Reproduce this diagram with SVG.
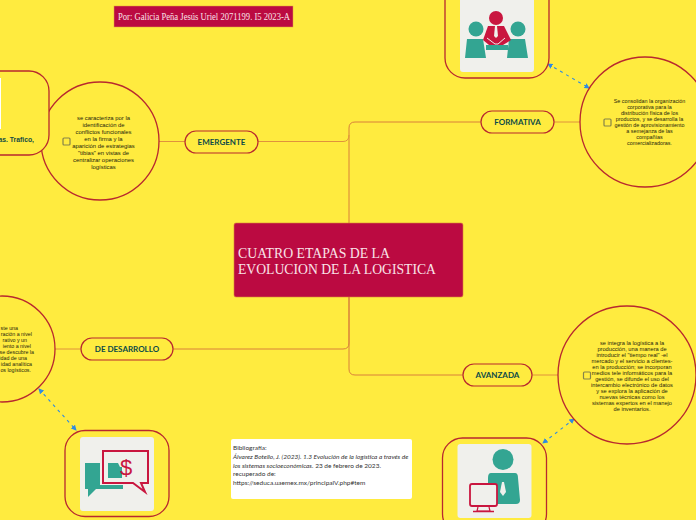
<svg xmlns="http://www.w3.org/2000/svg" width="696" height="520" viewBox="0 0 696 520">
<style>
.bg{fill:#ffeb3f}
.line{fill:none;stroke:#e0923c;stroke-width:1}
.trunk{fill:none;stroke:#d9803a;stroke-width:1}
.dash{fill:none;stroke:#2f8be0;stroke-width:1.1;stroke-dasharray:3 4;marker-start:url(#a);marker-end:url(#a)}
.bub{fill:#ffeb3f;stroke:#b8282f;stroke-width:1.3}
.pill{fill:#ffeb3f;stroke:#b8282f;stroke-width:1.2}
.pt{font:700 8px "Lato","Open Sans",sans-serif;fill:#0c4a48;text-anchor:middle}
.b{font:5.5px "Liberation Sans",Arial,sans-serif;fill:#26260c;text-anchor:middle}
.chk{fill:#ffeb3f;stroke:#85834a;stroke-width:1.2}
.img{fill:#f0f0ec}
.teal{fill:#33a592}
.red{fill:#c9163f}
.bib{font:6.5px "Lato","Open Sans",sans-serif;fill:#333}
.s{font-family:"Liberation Serif",serif;fill:#f9e4e9}
</style>
<defs>
<marker id="a" viewBox="0 0 6 6" refX="5" refY="3" markerWidth="5" markerHeight="5" orient="auto-start-reverse"><path d="M0 0L6 3L0 6z" fill="#2f8be0"/></marker>
</defs>
<rect class="bg" width="696" height="520"/>
<g id="connectors">
<path class="trunk" d="M349 223V128Q349 122 355 122H481"/>
<path class="trunk" d="M349 297V369Q349 375 355 375H463"/>
<path class="trunk" d="M173 349H343Q349 349 349 343V297"/>
<path class="line" d="M258 141.500H343Q349 141.500 349 135"/>
<path class="line" d="M159 141.500H185"/>
<path class="line" d="M554 122H580"/>
<path class="line" d="M55 349H81"/>
<path class="line" d="M532 375H558"/>
<path class="dash" d="M548 64L589 88"/>
<path class="dash" d="M39 389L76 430"/>
<path class="dash" d="M574 419L543 443"/>
</g>
<g id="title"><rect x="114" y="6" width="179" height="21" fill="#bb0a41" stroke="#e0a040" stroke-width=".5"/><text class="s" x="118" y="20" font-size="9.500" textLength="172" lengthAdjust="spacingAndGlyphs">Por: Galicia Peña Jesús Uriel 2071199. I5 2023-A</text></g>
<g id="central"><rect x="234" y="223" width="229" height="74" rx="2" fill="#bb0a41" stroke="#d9803a" stroke-width=".6"/><text class="s" font-size="14.500" x="238" y="258" textLength="152" lengthAdjust="spacingAndGlyphs">CUATRO ETAPAS DE LA</text><text class="s" font-size="14.500" x="238" y="274" textLength="198" lengthAdjust="spacingAndGlyphs">EVOLUCION DE LA LOGISTICA</text></g>
<g id="bibliografia"><rect x="231" y="439" width="181" height="60" rx="2" fill="#fff"/>
<text class="bib" x="233" y="450">Bibliografía:</text>
<text class="bib" x="233" y="459"><tspan font-style="italic">Álvarez Botello, J. (2023). 1.3 Evolución de la logística a través de</tspan></text>
<text class="bib" x="233" y="467.500"><tspan font-style="italic">los sistemas socioeconómicas.</tspan> 23 de febrero de 2023.</text>
<text class="bib" x="233" y="476">recuperado de:</text>
<text class="bib" x="233" y="484.500">https://seduca.uaemex.mx/principalV.php#tem</text>
</g>
<g id="emergente"><rect class="pill" x="185" y="131" width="73" height="22" rx="11"/><text class="pt" x="221.500" y="145">EMERGENTE</text></g>
<g id="emergente-texto"><circle class="bub" cx="100" cy="141" r="59"/><rect class="chk" x="63" y="138" width="7" height="7" rx="1"/>
<text class="b" style="font-size:5.900px"><tspan x="103.500" y="120">se caracteriza por la</tspan><tspan x="103.500" y="127">identificación de</tspan><tspan x="103.500" y="134">conflictos funcionales</tspan><tspan x="103.500" y="141">en la firma y la</tspan><tspan x="103.500" y="148">aparición de estrategias</tspan><tspan x="103.500" y="155">"tibias" en vistas de</tspan><tspan x="103.500" y="162">centralizar operaciones</tspan><tspan x="103.500" y="169">logísticas</tspan></text></g>
<g id="emergente-imagen"><rect class="bub" x="-60" y="71" width="109" height="84" rx="20"/><rect x="-50" y="78" width="51" height="51" fill="#fff"/><text x="34" y="142" text-anchor="end" font-family="Liberation Sans,sans-serif" font-size="6.800" font-weight="700" fill="#154a42">as. Trafico,</text></g>
<g id="formativa"><rect class="pill" x="481" y="111" width="73" height="22" rx="11"/><text class="pt" x="517.500" y="125">FORMATIVA</text></g>
<g id="formativa-texto"><circle class="bub" cx="645" cy="122" r="65"/><rect class="chk" x="604" y="119" width="7" height="7" rx="1"/>
<text class="b" style="font-size:5.400px"><tspan x="649.500" y="103">Se consolidan la organización</tspan><tspan x="649.500" y="109">corporativa para la</tspan><tspan x="649.500" y="115">distribución física de los</tspan><tspan x="649.500" y="121">productos, y se desarrolla la</tspan><tspan x="649.500" y="127">gestión de aprovisionamiento</tspan><tspan x="649.500" y="133">a semejanza de las</tspan><tspan x="649.500" y="139">compañías</tspan><tspan x="649.500" y="145">comercializadoras.</tspan></text></g>
<g id="formativa-imagen"><rect class="bub" x="445" y="-20" width="104" height="98" rx="20"/><rect class="img" x="460" y="-10" width="74" height="82" rx="3"/>
<circle class="teal" cx="476" cy="29" r="7.500"/><circle class="teal" cx="518" cy="29" r="7.500"/>
<path class="teal" d="M467 39H483L486 58H465zM509 39H525L528 58H507zM486 45H508V50H486z"/>
<circle class="red" cx="496" cy="18" r="7"/><path class="red" d="M488 26H504L511 40L503 45H489L483 40z"/><path d="M495 26H497L498 36L496 38L494 36z" fill="#f0f0ec"/><path d="M487 38L495 44H498L505 38" fill="none" stroke="#f0f0ec" stroke-width="1"/></g>
<g id="desarrollo"><rect class="pill" x="81" y="338" width="92" height="22" rx="11"/><text class="pt" x="127" y="352">DE DESARROLLO</text></g>
<g id="desarrollo-texto"><circle class="bub" cx="2" cy="349" r="53"/>
<text class="b" style="text-anchor:end;font-size:5.300px"><tspan x="18" y="330">ste una</tspan><tspan x="32" y="336">ración a nivel</tspan><tspan x="27" y="342">rativo y un</tspan><tspan x="31" y="348">iento a nivel</tspan><tspan x="34" y="354">se descubre la</tspan><tspan x="27" y="360">idad de una</tspan><tspan x="32" y="366">idad analítica</tspan><tspan x="31" y="372">os logísticos.</tspan></text></g>
<g id="desarrollo-imagen"><rect class="bub" x="65" y="430.500" width="104" height="86" rx="20"/><rect class="img" x="80" y="437" width="74" height="74" rx="3"/>
<path class="teal" d="M85 463H100V485H123V489H96L88 497V489H85z"/><path class="teal" d="M108 463H118L120 467H122V478H108z"/>
<path d="M103 451H148V483H141L145 492L133 483H103z" fill="none" stroke="#c9163f" stroke-width="2"/><text x="126" y="475" text-anchor="middle" font-family="Liberation Sans,sans-serif" font-size="22" fill="#c9163f">$</text></g>
<g id="avanzada"><rect class="pill" x="463" y="364" width="69" height="22" rx="11"/><text class="pt" x="497.500" y="378">AVANZADA</text></g>
<g id="avanzada-texto"><circle class="bub" cx="627" cy="375" r="69"/><rect class="chk" x="583.500" y="372" width="7" height="7" rx="1"/>
<text class="b" style="font-size:5.700px"><tspan x="632" y="345">se integra la logística a la</tspan><tspan x="632" y="351">producción, una manera de</tspan><tspan x="632" y="357">introducir el "tiempo real" -el</tspan><tspan x="632" y="363">mercado y el servicio a clientes-</tspan><tspan x="632" y="369">en la producción; se incorporan</tspan><tspan x="632" y="375">medios tele informáticos para la</tspan><tspan x="632" y="381">gestión, se difunde el uso del</tspan><tspan x="632" y="387">intercambio electrónico de datos</tspan><tspan x="632" y="393">y se explora la aplicación de</tspan><tspan x="632" y="399">nuevas técnicas como los</tspan><tspan x="632" y="405">sistemas expertos en el manejo</tspan><tspan x="632" y="411">de inventarios.</tspan></text></g>
<g id="avanzada-imagen"><rect class="bub" x="442.500" y="438" width="104" height="96" rx="20"/><rect class="img" x="457.500" y="444" width="74" height="74" rx="3"/>
<circle class="teal" cx="503" cy="459.500" r="10.500"/><path class="teal" d="M491 473H515Q518 473 518 478L520 500Q520 504 516 504H488V478Q488 473 491 473z"/><path d="M502 482H504L506 492L503 496L500 492z" fill="#f0f0ec"/>
<rect x="470" y="484" width="27" height="22" rx="2" fill="#f0f0ec" stroke="#c9163f" stroke-width="1.800"/><path d="M478 507L477 511H490L489 507" fill="none" stroke="#c9163f" stroke-width="1.200"/><path d="M473 511.500H494" stroke="#c9163f" stroke-width="1.500"/></g>
</svg>
